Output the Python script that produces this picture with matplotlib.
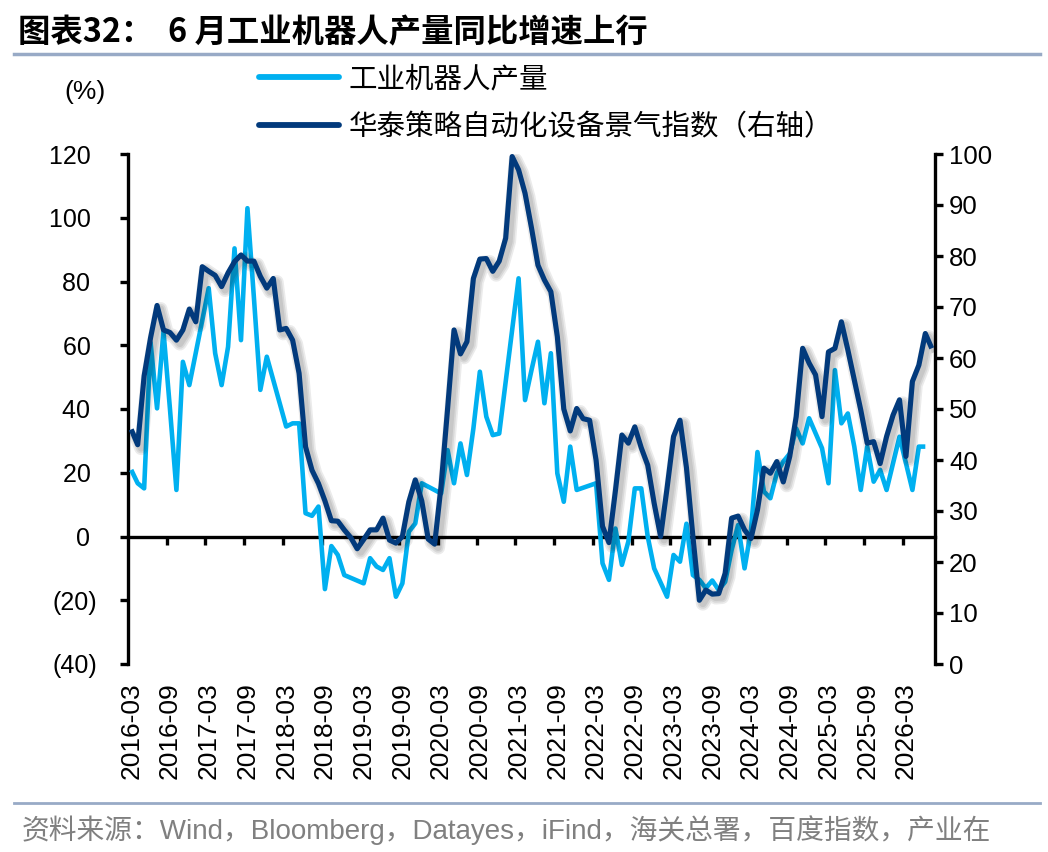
import numpy as np
import matplotlib
matplotlib.use("Agg")
import matplotlib.pyplot as plt
from matplotlib.lines import Line2D
import matplotlib.patheffects as pe

plt.rcParams['font.family'] = ['Liberation Sans', 'Noto Sans CJK SC']

# ---------------- data ----------------
start_month = "2016-03"
n_months = 125
tick_labels = ["2016-03", "2016-09", "2017-03", "2017-09", "2018-03", "2018-09",
               "2019-03", "2019-09", "2020-03", "2020-09", "2021-03", "2021-09",
               "2022-03", "2022-09", "2023-03", "2023-09", "2024-03", "2024-09",
               "2025-03", "2025-09", "2026-03"]

nan = np.nan
# 工业机器人产量 同比 (%), left axis
robot_output = [20.9, 16.7, 15.1, 60.8, 40.2, 64.3, 40, 14.6, 54.8, 47.5,
                nan, nan, 77.9, 57.5, 47.5, 59.5, 90.4, 61.6, 103, 75,
                46, 56.4, nan, nan, 34.5, 35.5, 35.5, 7.3, 6.5, 9.4,
                -16.5, -3, -5.8, -12.1, nan, nan, -14.7, -6.8, -9.4, -10.5,
                -6.8, -18.9, -14.7, 1.5, 4.1, 16.7, nan, nan, 13.5, 27.1,
                16.7, 29.2, 19.3, 33.9, 51.7, 37.6, 31.8, 32.3, nan, nan,
                81, 42.8, 52.2, 61.1, 41.8, 57.5, 19.8, 10.9, 28.2, 14.6,
                nan, nan, 16.7, -8.4, -13.6, 2.5, -8.9, -1.6, 15.1, 15.1,
                0, -10, nan, -18.9, -5.8, -7.9, 4, -12.1, -13.6, -16.2,
                -13.8, -16.8, -14.2, -4.2, 3.6, -10, 2, 26.5, 14.1, 12,
                19.9, 23.5, 26, 33.9, 29.2, 37.1, nan, 27.7, 16.7, 52.2,
                35.5, 38.6, 28.2, 14.6, 28.2, 17.2, 20.9, 14.6, nan, 31.3,
                23, 14.6, 28.2, 28.2, nan]

# 华泰策略自动化设备景气指数, right axis
index_values = [46, 43, 56.5, 64, 70.3, 65.5, 65, 63.5, 65.5, 69.6,
                67.1, 77.9, 77, 76.2, 74, 76.7, 78.9, 80.2, 79, 79,
                76, 73.7, 75.6, 65.5, 65.8, 63.5, 57, 42.6, 38, 35.4,
                32, 28.1, 28, 26.3, 24.8, 22.6, 24.4, 26.3, 26.3, 28.6,
                24.3, 23.7, 25, 31.8, 36.1, 32, 24.5, 23.5, 35, 50,
                65.5, 60.8, 63.2, 75.6, 79.4, 79.5, 77, 79, 83.5, 99.5,
                96.9, 92.3, 85.5, 78.2, 75.3, 73, 64.2, 50, 45.7, 50.1,
                48.1, 47.8, 40, 27, 23.8, 34, 44.9, 43.3, 46.5, 42.4,
                39, 31.5, 25, 34.5, 44.6, 47.8, 38.5, 25, 12.5, 14.5,
                13.7, 13.8, 17.8, 28.6, 29, 26.3, 24.6, 30.2, 38.4, 37.4,
                39.7, 35.7, 40.7, 48.5, 61.9, 59, 56.7, 48.5, 61.2, 61.9,
                67.1, 61.6, 55.7, 49.8, 43.3, 43.6, 39.3, 44.6, 48.8, 51.8,
                40.7, 55.4, 58.6, 64.8, 61.9]

series_names = ["工业机器人产量", "华泰策略自动化设备景气指数（右轴）"]
left_ticks = [-40, -20, 0, 20, 40, 60, 80, 100, 120]
right_ticks = list(range(0, 101, 10))

# ---------------- styling ----------------
LIGHT = '#00B0F0'
DARK = '#023A7C'
CJK = ['Noto Sans CJK SC', 'DejaVu Sans']
W, H = 1048, 852

x = np.arange(n_months)
robot = np.array(robot_output, dtype=float)
idx = np.array(index_values, dtype=float)
mask = ~np.isnan(robot)

fig = plt.figure(figsize=(W / 100, H / 100), dpi=100)
ax = fig.add_axes([128 / W, 1 - 664 / H, (935 - 128) / W, (664 - 154) / H])
ax2 = ax.twinx()

ax.plot(x[mask], robot[mask], color=LIGHT, lw=3.3, solid_joinstyle='round',
        solid_capstyle='butt', zorder=3)

shadow = [pe.SimpleLineShadow(offset=(2.5, -2.5), shadow_color='black', alpha=0.08, linewidth=lw)
          for lw in (10, 7.5, 5)]
ax2.plot(x, idx, color=DARK, lw=3.7, solid_joinstyle='round', solid_capstyle='butt',
         path_effects=shadow + [pe.Normal()], zorder=3)

ax.set_xlim(-0.5, n_months - 0.5)
ax.set_ylim(-40, 120)
ax2.set_ylim(0, 100)

for a in (ax, ax2):
    for s in ('top', 'bottom'):
        a.spines[s].set_visible(False)
ax.spines['right'].set_visible(False)
ax2.spines['left'].set_visible(False)
ax.spines['left'].set_linewidth(2.4)
ax2.spines['right'].set_linewidth(2.4)

ax.set_yticks(left_ticks)
ax.set_yticklabels([f"({-v})" if v < 0 else f"{v} " for v in left_ticks])
ax.tick_params(axis='y', direction='out', length=6, width=2.4, pad=16, labelsize=18)
ax2.set_yticks(right_ticks)
ax2.set_yticklabels([str(v) for v in right_ticks])
ax2.tick_params(axis='y', direction='out', length=6, width=2.4, pad=4, labelsize=18.5)

ax.set_xticks(np.arange(0, n_months, 6))
ax.set_xticklabels(tick_labels, rotation=90)
ax.tick_params(axis='x', length=0, pad=13, labelsize=19)
ax2.tick_params(axis='x', length=0, labelbottom=False)

# x axis at zero with tick marks between categories
zero_frac = (0 - (-40)) / 160
sec = ax.secondary_xaxis(zero_frac)
sec.set_xticks(np.arange(6, n_months, 6) - 0.5)
sec.tick_params(axis='x', direction='out', length=6, width=2.4, labelbottom=False)
sec.spines['bottom'].set_linewidth(2.4)

# title & rules
fig.text(18 / W, 1 - 33 / H, "图表32：  6 月工业机器人产量同比增速上行", family=CJK,
         fontsize=23.3, fontweight='bold', va='center', ha='left')
fig.add_artist(Line2D([14 / W, 1040 / W], [1 - 54 / H, 1 - 54 / H], color='#98AAC6', lw=2.5))
fig.add_artist(Line2D([14 / W, 1040 / W], [1 - 803 / H, 1 - 803 / H], color='#98AAC6', lw=2.0))
fig.text(22 / W, 1 - 830 / H, "资料来源：Wind，Bloomberg，Datayes，iFind，海关总署，百度指数，产业在",
         family=['Liberation Sans', 'Noto Sans CJK SC'], fontsize=20, color='#808080',
         va='center', ha='left')
fig.text(85 / W, 1 - 92 / H, "(%)", fontsize=19, va='center', ha='center')

handles = [Line2D([], [], color=LIGHT, lw=4.2, solid_capstyle='round'),
           Line2D([], [], color=DARK, lw=4.2, solid_capstyle='round')]
fig.legend(handles, series_names, loc='upper left', bbox_to_anchor=(259 / W, 1 - 64 / H),
           frameon=False, prop={'family': CJK, 'size': 20.5}, handlelength=2.8,
           handletextpad=0.36, labelspacing=0.64, borderpad=0, borderaxespad=0)

fig.savefig("out.png", dpi=100)
